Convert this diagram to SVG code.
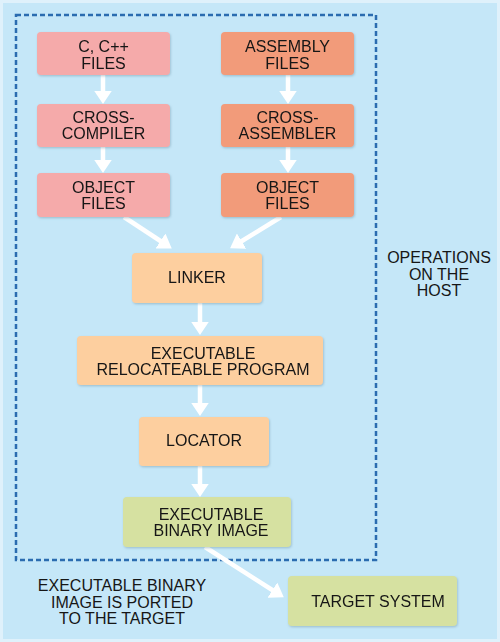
<svg xmlns="http://www.w3.org/2000/svg" width="500" height="642" viewBox="0 0 500 642">
<style>
.t{font-family:"Liberation Sans",Arial,sans-serif;font-size:16px;fill:#161616;text-anchor:middle}
.pink{fill:#f5aaaa}
.salmon{fill:#f29b7a}
.peach{fill:#fdcf9f}
.green{fill:#d6e1a1}
.arr{stroke:#ffffff;stroke-width:4.5;fill:none;marker-end:url(#ah)}
</style>
<defs>
<marker id="ah" markerWidth="4" markerHeight="4" refX="1.2" refY="2" orient="auto" markerUnits="strokeWidth" viewBox="0 0 4 4">
<path d="M0,0 L3,2 L0,4 Z" fill="#ffffff"/>
</marker>
<filter id="sh" x="-10%" y="-10%" width="120%" height="130%">
<feDropShadow dx="0.8" dy="1.2" stdDeviation="1" flood-color="#6a8fa0" flood-opacity="0.45"/>
</filter>
</defs>
<rect x="0" y="0" width="500" height="642" fill="#c5e7f8"/>
<rect x="1.5" y="1.5" width="497" height="639" fill="none" stroke="#dff1fb" stroke-width="3"/>
<rect id="host-boundary" x="16" y="15" width="360" height="545" fill="none" stroke="#2b6cb0" stroke-width="2.5" stroke-dasharray="5,3"/>

<g id="connectors">
<line class="arr" x1="103" y1="75" x2="103" y2="96"/>
<line class="arr" x1="103" y1="147" x2="103" y2="165"/>
<line class="arr" x1="288" y1="75" x2="288" y2="96"/>
<line class="arr" x1="288" y1="147" x2="288" y2="165"/>
<line class="arr" x1="124" y1="217" x2="165" y2="244"/>
<line class="arr" x1="281" y1="217" x2="237" y2="244"/>
<line class="arr" x1="200" y1="303" x2="200" y2="327"/>
<line class="arr" x1="200" y1="385" x2="200" y2="408"/>
<line class="arr" x1="200" y1="466" x2="200" y2="489"/>
<line class="arr" x1="205" y1="547" x2="277" y2="593"/>
</g>

<g id="c-files" filter="url(#sh)">
<rect class="pink" x="37" y="32" width="133" height="43" rx="4"/>
<text class="t" x="103.5" y="52">C, C++</text>
<text class="t" x="103.5" y="69">FILES</text>
</g>
<g id="cross-compiler" filter="url(#sh)">
<rect class="pink" x="37" y="104" width="133" height="43" rx="4"/>
<text class="t" x="103.5" y="122.5">CROSS-</text>
<text class="t" x="103.5" y="139">COMPILER</text>
</g>
<g id="object-files-left" filter="url(#sh)">
<rect class="pink" x="37" y="173" width="133" height="44" rx="4"/>
<text class="t" x="103.5" y="192.5">OBJECT</text>
<text class="t" x="103.5" y="209">FILES</text>
</g>
<g id="assembly-files" filter="url(#sh)">
<rect class="salmon" x="221" y="32" width="133" height="43" rx="4"/>
<text class="t" x="287.5" y="52">ASSEMBLY</text>
<text class="t" x="287.5" y="69">FILES</text>
</g>
<g id="cross-assembler" filter="url(#sh)">
<rect class="salmon" x="221" y="104" width="133" height="43" rx="4"/>
<text class="t" x="287.5" y="122.5">CROSS-</text>
<text class="t" x="287.5" y="139">ASSEMBLER</text>
</g>
<g id="object-files-right" filter="url(#sh)">
<rect class="salmon" x="221" y="173" width="133" height="44" rx="4"/>
<text class="t" x="287.5" y="192.5">OBJECT</text>
<text class="t" x="287.5" y="209">FILES</text>
</g>
<g id="linker" filter="url(#sh)">
<rect class="peach" x="132" y="253" width="130" height="50" rx="4"/>
<text class="t" x="197" y="283">LINKER</text>
</g>
<g id="relocatable" filter="url(#sh)">
<rect class="peach" x="77" y="336" width="246" height="49" rx="4"/>
<text class="t" x="203" y="358.5">EXECUTABLE</text>
<text class="t" x="203" y="375">RELOCATEABLE PROGRAM</text>
</g>
<g id="locator" filter="url(#sh)">
<rect class="peach" x="139" y="417" width="130" height="49" rx="4"/>
<text class="t" x="204" y="446">LOCATOR</text>
</g>
<g id="binary-image" filter="url(#sh)">
<rect class="green" x="123" y="497" width="168" height="50" rx="4"/>
<text class="t" x="211" y="519.5">EXECUTABLE</text>
<text class="t" x="211" y="536">BINARY IMAGE</text>
</g>
<g id="target-system" filter="url(#sh)">
<rect class="green" x="288" y="576" width="169" height="50" rx="4"/>
<text class="t" x="378" y="607">TARGET SYSTEM</text>
</g>
<g id="host-label">
<text class="t" x="439" y="263">OPERATIONS</text>
<text class="t" x="439" y="279.5">ON THE</text>
<text class="t" x="439" y="296">HOST</text>
</g>
<g id="port-label">
<text class="t" x="122" y="591">EXECUTABLE BINARY</text>
<text class="t" x="122" y="607.5">IMAGE IS PORTED</text>
<text class="t" x="122" y="624">TO THE TARGET</text>
</g>
</svg>
